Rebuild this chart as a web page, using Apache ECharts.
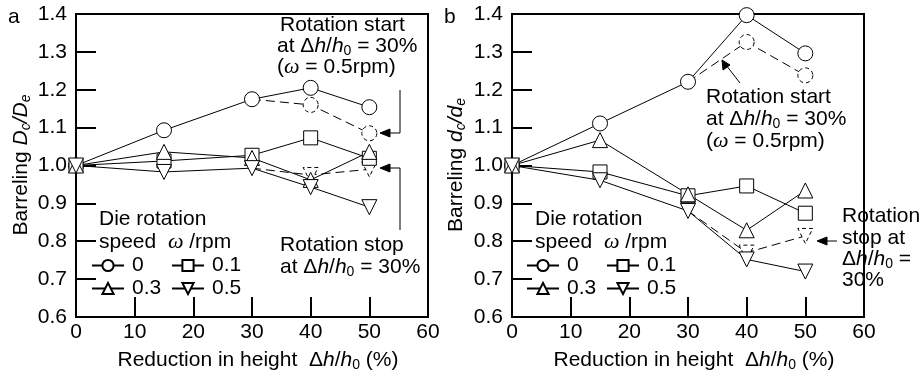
<!DOCTYPE html>
<html>
<head>
<meta charset="utf-8">
<script src="https://cdn.jsdelivr.net/npm/echarts@6/dist/echarts.min.js"></script>
<style>
  html, body { margin: 0; padding: 0; background: #fff; }
  #main { width: 922px; height: 376px; }
</style>
</head>
<body>
<div id="main"></div>
<script>
// reduction in height (%)
var xVals = [0, 15, 30, 40, 50];
var xStart = [30, 40, 50];

// panel a : Dc/De
var a0 = [1.0, 1.093, 1.175, 1.205, 1.154];
var a01 = [1.0, 1.012, 1.027, 1.073, 1.019];
var a03 = [1.0, 1.036, 1.020, 0.962, 1.036];
var a05 = [1.0, 0.983, 0.993, 0.943, 0.890];
var aStart = [1.175, 1.160, 1.085];   // rotation start at 30% (0.5rpm)
var aStop = [0.993, 0.975, 0.990];    // rotation stop at 30%

// panel b : dc/de
var b0 = [1.0, 1.111, 1.221, 1.397, 1.296];
var b01 = [1.0, 0.983, 0.920, 0.946, 0.874];
var b03 = [1.0, 1.067, 0.924, 0.829, 0.934];
var b05 = [1.0, 0.961, 0.880, 0.752, 0.720];
var bStart = [1.221, 1.326, 1.238];
var bStop = [0.880, 0.770, 0.814];

var F = 'Liberation Sans';
var chart = echarts.init(document.getElementById('main'), null, { renderer: 'canvas' });

var rich = {
  n: { fontSize: 21, fontFamily: F, fill: '#000', color: '#000' },
  i: { fontSize: 21, fontFamily: F, fontStyle: 'italic', fill: '#000', color: '#000' },
  s: { fontSize: 14, fontFamily: F, fill: '#000', color: '#000', padding: [10, 0, 0, 0] },
  si: { fontSize: 14, fontFamily: F, fontStyle: 'italic', fill: '#000', color: '#000', padding: [10, 0, 0, 0] },
  w: { fontSize: 22, fontFamily: 'Liberation Serif', fontStyle: 'italic', fill: '#000', color: '#000' }
};

function pairs(xs, ys) {
  return xs.map(function (x, i) { return [x, ys[i]]; });
}

function solid(name, idx, ys, sym, rot, size) {
  return {
    type: 'line', name: name, xAxisIndex: idx, yAxisIndex: idx,
    data: pairs(xVals, ys),
    symbol: sym, symbolSize: size, symbolRotate: rot,
    lineStyle: { color: '#000', width: 1 },
    itemStyle: { color: '#fff', borderColor: '#000', borderWidth: 1 },
    z: 3, animation: false
  };
}

function dashed(name, idx, ys, sym, rot, size) {
  var d = pairs(xStart, ys);
  d[0] = { value: d[0], symbol: 'none' };
  return {
    type: 'line', name: name, xAxisIndex: idx, yAxisIndex: idx,
    data: d,
    symbol: sym, symbolSize: size, symbolRotate: rot,
    lineStyle: { color: '#000', width: 1, type: [9, 5] },
    itemStyle: { color: '#fff', borderColor: '#000', borderWidth: 1, borderType: [4, 3] },
    z: 2, animation: false
  };
}

function xAx(idx) {
  return {
    type: 'value', gridIndex: idx, min: 0, max: 60, interval: 10,
    axisLine: { lineStyle: { color: '#000', width: 2 } },
    axisTick: { inside: true, length: 20, lineStyle: { color: '#000', width: 2 } },
    axisLabel: { fontSize: 21, fontFamily: F, color: '#000', margin: 5 },
    splitLine: { show: false }
  };
}

function yAx(idx) {
  return {
    type: 'value', gridIndex: idx, min: 0.6, max: 1.4, interval: 0.1,
    axisLine: { lineStyle: { color: '#000', width: 2 } },
    axisTick: { inside: true, length: 20, lineStyle: { color: '#000', width: 2 } },
    axisLabel: { fontSize: 21, fontFamily: F, color: '#000', margin: 9,
      formatter: function (v) { return v.toFixed(1); } },
    splitLine: { show: false }
  };
}

function leg(names, left) {
  return {
    data: names, orient: 'vertical', left: left, top: 255, padding: 0,
    itemWidth: 32, itemHeight: 14, itemGap: 2, selectedMode: false,
    textStyle: { fontSize: 21, fontFamily: F, color: '#000', padding: [0, 0, 0, 3] }
  };
}

function txt(x, y, text, align) {
  return {
    type: 'text', x: x, y: y, silent: true,
    style: { text: text, rich: rich, fontSize: 21, fontFamily: F, fill: '#000',
      align: align || 'left', verticalAlign: 'middle',
      textAlign: align || 'left', textVerticalAlign: 'middle' }
  };
}

function rtxt(x, y, text) {
  var t = txt(x, y, text, 'center');
  t.rotation = Math.PI / 2;
  return t;
}

function line(pts) {
  return { type: 'polyline', silent: true, shape: { points: pts },
    style: { stroke: '#000', lineWidth: 1, fill: null } };
}

function head(pts) {
  return { type: 'polygon', silent: true, shape: { points: pts },
    style: { fill: '#000', stroke: '#000', lineWidth: 1 } };
}

var dh = '{n|Δ}{i|h}{n|/}{i|h}{s|0}';

var option = {
  backgroundColor: '#fff',
  animation: false,
  grid: [
    { left: 76, top: 14, width: 352, height: 303, show: true, borderColor: '#000', borderWidth: 2, backgroundColor: 'transparent' },
    { left: 512, top: 14, width: 352, height: 303, show: true, borderColor: '#000', borderWidth: 2, backgroundColor: 'transparent' }
  ],
  xAxis: [xAx(0), xAx(1)],
  yAxis: [yAx(0), yAx(1)],
  legend: [
    leg(['0', '0.3'], 91), leg(['0.1', '0.5'], 171),
    leg(['0', '0.3'], 526), leg(['0.1', '0.5'], 606)
  ],
  series: [
    dashed('a start', 0, aStart, 'circle', 0, 15),
    dashed('a stop', 0, aStop, 'triangle', 180, 15),
    solid('0', 0, a0, 'circle', 0, 15),
    solid('0.1', 0, a01, 'rect', 0, 14),
    solid('0.3', 0, a03, 'triangle', 0, 15),
    solid('0.5', 0, a05, 'triangle', 180, 15),
    dashed('b start', 1, bStart, 'circle', 0, 15),
    dashed('b stop', 1, bStop, 'triangle', 180, 15),
    solid('0', 1, b0, 'circle', 0, 15),
    solid('0.1', 1, b01, 'rect', 0, 14),
    solid('0.3', 1, b03, 'triangle', 0, 15),
    solid('0.5', 1, b05, 'triangle', 180, 15)
  ],
  graphic: [
    // panel labels
    txt(8, 17, '{n|a}'),
    txt(444, 17, '{n|b}'),
    // axis names
    rtxt(21, 165, '{n|Barreling }{i|D}{si|c}{i|/D}{si|e}'),
    rtxt(456, 165, '{n|Barreling }{i|d}{si|c}{i|/d}{si|e}'),
    txt(258, 360, '{n|Reduction in height  }' + dh + '{n| (%)}', 'center'),
    txt(694, 360, '{n|Reduction in height  }' + dh + '{n| (%)}', 'center'),
    // legend titles
    txt(99, 219, '{n|Die rotation}'),
    txt(99, 242, '{n|speed  }{w|ω}{n| /rpm}'),
    txt(535, 219, '{n|Die rotation}'),
    txt(535, 242, '{n|speed  }{w|ω}{n| /rpm}'),
    // panel a notes
    txt(280, 25, '{n|Rotation start}'),
    txt(277, 46, '{n|at }' + dh + '{n| = 30%}'),
    txt(277, 67, '{n|(}{w|ω}{n| = 0.5rpm)}'),
    txt(280, 245, '{n|Rotation stop}'),
    txt(280, 267, '{n|at }' + dh + '{n| = 30%}'),
    line([[400, 90], [400, 133], [388, 133]]),
    head([[380, 133], [390, 129], [390, 137]]),
    line([[400, 230], [400, 168], [388, 168]]),
    head([[380, 168], [390, 164], [390, 172]]),
    // panel b notes
    txt(706, 97, '{n|Rotation start}'),
    txt(706, 119, '{n|at }' + dh + '{n| = 30%}'),
    txt(706, 141, '{n|(}{w|ω}{n| = 0.5rpm)}'),
    line([[740, 83], [726, 65]]),
    head([[722, 60], [723, 70], [730, 65]]),
    txt(842, 216, '{n|Rotation}'),
    txt(842, 238, '{n|stop at}'),
    txt(842, 259, dh + '{n| =}'),
    txt(842, 280, '{n|30%}'),
    line([[837, 241], [826, 241]]),
    head([[817, 241], [827, 237], [827, 245]])
  ]
};

chart.setOption(option);
</script>
</body>
</html>
